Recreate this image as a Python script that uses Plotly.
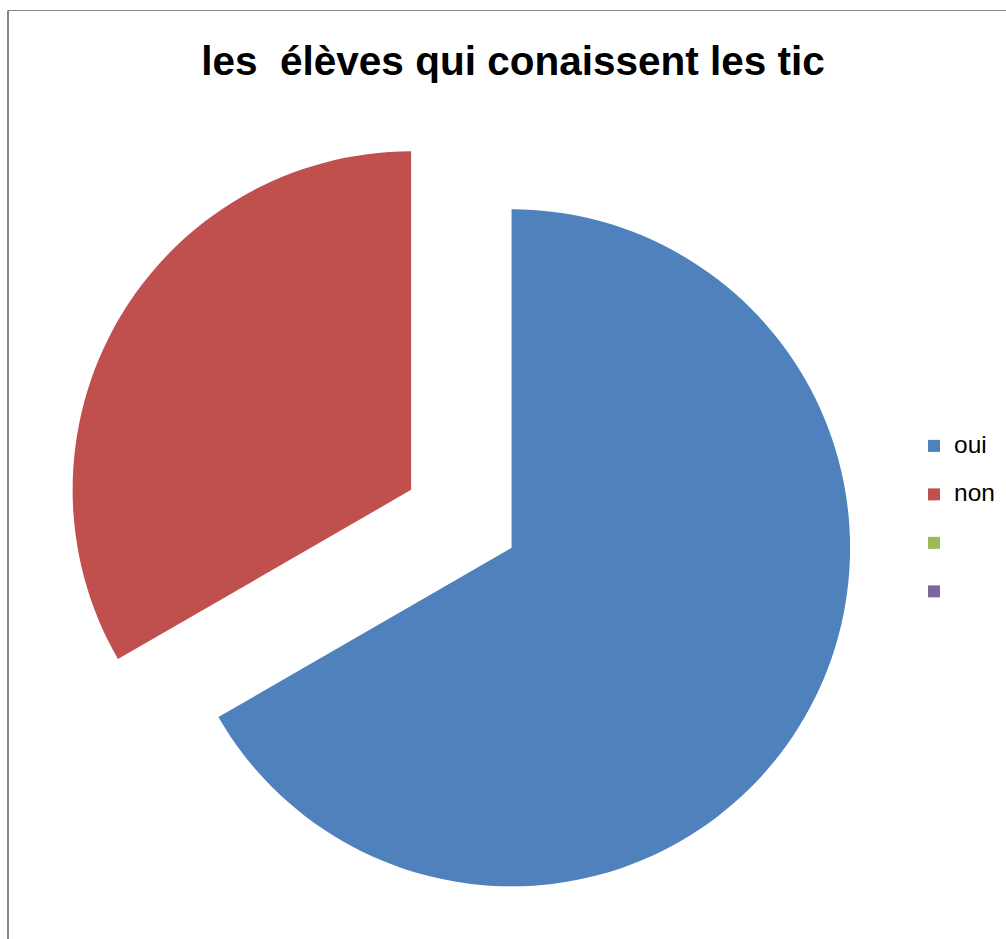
import plotly.graph_objects as go

# data
categories = ["oui", "non", "\u00a0", "\u00a0\u00a0"]
values = [2, 1, 0, 0]
colors = ["#4F81BD", "#C0504D", "#9BBB59", "#8064A2"]
pulls = [0.1713, 0.1713, 0, 0]
title_text = "les \u00a0élèves qui conaissent les tic"

W, H = 1006, 939
FONT = "Liberation Sans, Arial, sans-serif"

# legend labels: visible text at 24.5px, extra blank line to reproduce the wide row spacing
legend_labels = [
    '<span style="font-size:24.5px">%s</span><br>\u00a0' % c for c in categories
]

fig = go.Figure(
    go.Pie(
        labels=legend_labels,
        values=values,
        sort=False,
        direction="clockwise",
        rotation=0,
        pull=pulls,
        textinfo="none",
        hoverinfo="skip",
        marker=dict(colors=colors, line=dict(width=0)),
        domain=dict(x=[64.85 / W, 857.85 / W], y=[1 - 915.35 / H, 1 - 122.35 / H]),
    )
)

fig.update_layout(
    width=W,
    height=H,
    margin=dict(l=0, r=0, t=0, b=0),
    paper_bgcolor="white",
    plot_bgcolor="white",
    font=dict(family=FONT, color="#000000"),
    title=dict(
        text="<b>%s</b>" % title_text,
        x=513 / W,
        xanchor="center",
        xref="paper",
        y=1 - 61 / H,
        yanchor="middle",
        yref="container",
        font=dict(family=FONT, size=40.5, color="#000000"),
    ),
    legend=dict(
        x=914 / W,
        xanchor="left",
        y=1 - 530 / H,
        yanchor="middle",
        valign="top",
        font=dict(family=FONT, size=17.5, color="#000000"),
        bgcolor="rgba(0,0,0,0)",
    ),
    shapes=[
        dict(type="line", xref="paper", yref="paper",
             x0=8 / W, x1=8 / W, y0=-0.05, y1=1 - 10.5 / H,
             line=dict(color="#878787", width=2)),
        dict(type="line", xref="paper", yref="paper",
             x0=8 / W, x1=1.05, y0=1 - 10.5 / H, y1=1 - 10.5 / H,
             line=dict(color="#878787", width=1.2)),
    ],
)

fig.write_html(
    "out.html",
    config={"displayModeBar": False},
    post_script="document.body.style.margin='0';document.body.style.overflow='hidden';",
)
